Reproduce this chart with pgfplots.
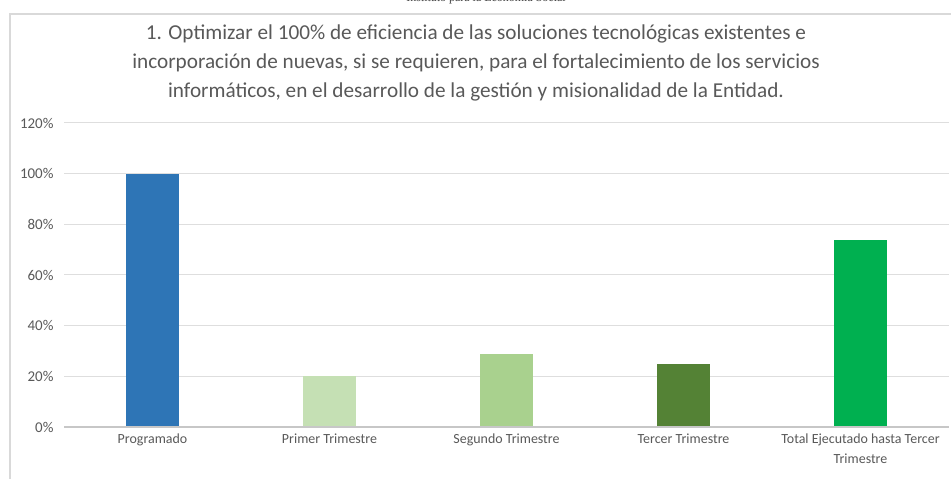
\documentclass[border=0pt]{standalone}
\usepackage{fontspec}
\setmainfont{Carlito}
\newfontfamily\headserif{Liberation Serif}
\usepackage{pgfplots}
\pgfplotsset{compat=1.18}
\definecolor{txt}{HTML}{595959}
\definecolor{cprog}{HTML}{2E75B6}
\definecolor{cprim}{HTML}{C5E0B4}
\definecolor{cseg}{HTML}{A9D18E}
\definecolor{cter}{HTML}{548235}
\definecolor{ctot}{HTML}{00B050}
\begin{document}
\begin{tikzpicture}
\path[use as bounding box] (0bp,0bp) rectangle (951bp,479bp);
\fill[white] (0bp,0bp) rectangle (951bp,479bp);
\draw[black!15, line width=1.5bp] (10bp,-2bp) -- (10bp,465bp) -- (953bp,465bp);
\node[font=\headserif\fontsize{12}{14}\selectfont, text=black!75] at (486bp,480bp) {Instituto para la Economía Social};
\node[align=center, text=txt, font=\fontsize{21.3}{29.5}\selectfont] at (476bp,416bp)
  {1. Optimizar el 100\% de eficiencia de las soluciones tecnológicas existentes e\\
   incorporación de nuevas, si se requieren, para el fortalecimiento de los servicios\\
   informáticos, en el desarrollo de la gestión y misionalidad de la Entidad.};
\begin{axis}[
  at={(64bp,52bp)}, anchor=south west,
  scale only axis, width=885bp, height=304bp,
  xmin=-0.5, xmax=4.5, ymin=0, ymax=120,
  ytick={0,20,...,120},
  yticklabel={\pgfmathprintnumber{\tick}\%},
  ymajorgrids, grid style={black!13, line width=1bp},
  axis line style={draw=none},
  major tick length=0pt,
  xtick={0,1,2,3,4},
  xticklabels={Programado, Primer Trimestre, Segundo Trimestre, Tercer Trimestre, {Total Ejecutado hasta Tercer\\Trimestre}},
  xticklabel style={align=center, text=txt, font=\fontsize{14}{20}\selectfont, yshift=-3bp},
  yticklabel style={text=txt, font=\fontsize{15}{16}\selectfont, xshift=-7bp},
  /pgf/number format/assume math mode=true,
  ybar, bar width=53bp, bar shift=0pt,
  clip=false,
]
\addplot[fill=cprog, draw=none] coordinates {(0,100)};
\addplot[fill=cprim, draw=none] coordinates {(1,20)};
\addplot[fill=cseg, draw=none] coordinates {(2,29)};
\addplot[fill=cter, draw=none] coordinates {(3,25)};
\addplot[fill=ctot, draw=none] coordinates {(4,74)};
\draw[black!22, line width=1.2bp] (axis cs:-0.5,0) -- (axis cs:4.5,0);
\end{axis}
\end{tikzpicture}
\end{document}
